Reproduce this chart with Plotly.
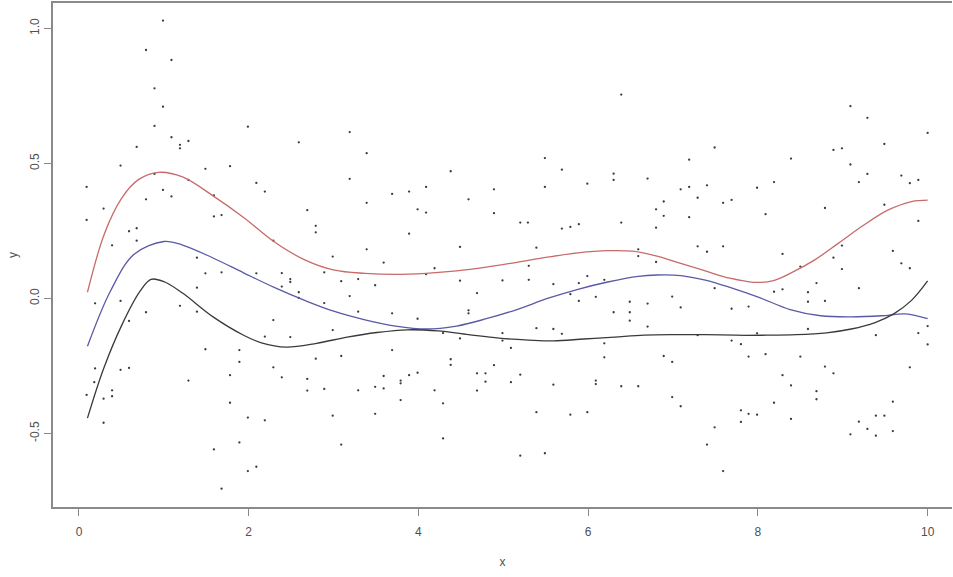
import plotly.graph_objects as go

# ---- scatter points ----
pts = [
    (0.99, 1.029), (0.79, 0.92), (1.09, 0.883), (0.89, 0.778), (0.99, 0.71), (0.89, 0.639),
    (1.99, 0.636), (1.09, 0.597), (1.19, 0.569), (1.19, 0.556), (1.29, 0.583), (0.68, 0.561),
    (0.49, 0.492), (1.49, 0.48), (1.78, 0.49), (0.89, 0.461), (1.29, 0.439), (2.09, 0.428),
    (2.19, 0.396), (0.09, 0.413), (0.99, 0.402), (1.09, 0.378), (0.79, 0.367), (1.59, 0.382),
    (0.29, 0.333), (0.09, 0.291), (1.59, 0.304), (1.68, 0.309), (0.59, 0.249), (0.68, 0.26),
    (0.68, 0.214), (0.39, 0.197), (1.39, 0.151), (1.49, 0.093), (1.68, 0.097), (2.09, 0.093),
    (1.39, 0.04), (0.19, -0.018), (0.49, -0.009), (0.79, -0.051), (1.19, -0.027), (1.39, -0.049),
    (0.59, -0.083), (2.19, -0.141), (1.49, -0.188), (1.89, -0.191), (1.89, -0.235), (0.19, -0.259),
    (0.49, -0.264), (0.59, -0.257), (1.78, -0.284), (1.29, -0.304), (0.18, -0.31), (0.09, -0.357),
    (0.29, -0.371), (0.39, -0.34), (0.39, -0.362), (1.78, -0.386), (0.29, -0.46), (1.99, -0.441),
    (2.19, -0.451), (1.89, -0.533), (1.59, -0.559), (1.99, -0.639), (2.09, -0.623), (1.68, -0.704),
    (3.19, 0.616), (2.59, 0.578), (3.39, 0.538), (4.38, 0.471), (3.19, 0.443), (3.69, 0.387),
    (3.89, 0.396), (4.09, 0.413), (4.59, 0.367), (3.39, 0.354), (2.69, 0.327), (3.99, 0.33),
    (4.09, 0.318), (2.79, 0.269), (2.79, 0.245), (3.89, 0.24), (2.29, 0.214), (3.39, 0.182),
    (4.49, 0.191), (2.99, 0.155), (3.59, 0.133), (4.19, 0.112), (4.09, 0.09), (2.39, 0.094),
    (2.49, 0.072), (2.49, 0.061), (2.89, 0.097), (3.09, 0.064), (3.29, 0.072), (3.49, 0.049),
    (4.49, 0.066), (2.39, 0.044), (2.59, 0.023), (2.59, 0.002), (3.19, 0.009), (2.89, -0.017),
    (4.69, 0.02), (4.59, -0.044), (4.59, -0.055), (3.29, -0.049), (3.69, -0.055), (2.29, -0.08),
    (3.99, -0.075), (2.99, -0.117), (2.49, -0.143), (4.29, -0.128), (4.49, -0.148), (3.69, -0.191),
    (2.79, -0.223), (3.09, -0.213), (4.38, -0.225), (4.38, -0.246), (2.29, -0.255), (2.39, -0.292),
    (2.69, -0.298), (2.69, -0.341), (2.89, -0.335), (3.29, -0.34), (3.49, -0.327), (3.59, -0.333),
    (3.59, -0.287), (3.79, -0.304), (3.79, -0.314), (3.89, -0.284), (3.99, -0.275), (4.19, -0.34),
    (4.69, -0.277), (4.69, -0.341), (3.79, -0.376), (4.29, -0.388), (2.99, -0.434), (3.49, -0.427),
    (3.09, -0.541), (4.29, -0.518),
    (6.39, 0.755), (5.49, 0.52), (7.19, 0.514), (5.69, 0.477), (6.30, 0.462), (6.30, 0.439),
    (6.70, 0.444), (5.99, 0.425), (4.89, 0.404), (5.49, 0.413), (7.09, 0.404), (7.19, 0.413),
    (7.40, 0.419), (7.29, 0.373), (6.89, 0.359), (6.80, 0.33), (4.89, 0.316), (6.89, 0.306),
    (7.19, 0.301), (5.20, 0.281), (5.29, 0.281), (5.89, 0.275), (6.39, 0.281), (5.69, 0.259),
    (5.79, 0.265), (6.80, 0.262), (5.39, 0.188), (6.59, 0.182), (6.59, 0.157), (7.29, 0.193),
    (7.40, 0.173), (6.80, 0.135), (5.30, 0.121), (4.99, 0.067), (5.30, 0.069), (5.59, 0.053),
    (5.89, 0.057), (5.99, 0.083), (6.19, 0.069), (5.79, 0.016), (5.89, -0.009), (6.09, 0.006),
    (6.49, -0.012), (6.70, -0.019), (6.99, 0.007), (7.09, -0.033), (6.30, -0.051), (6.49, -0.051),
    (6.49, -0.082), (5.39, -0.11), (5.59, -0.113), (5.69, -0.131), (6.70, -0.104), (4.99, -0.128),
    (4.99, -0.156), (7.29, -0.136), (5.09, -0.183), (6.19, -0.166), (6.19, -0.218), (6.89, -0.213),
    (6.99, -0.235), (4.89, -0.247), (4.79, -0.277), (4.79, -0.308), (5.09, -0.31), (5.20, -0.282),
    (5.59, -0.319), (6.09, -0.304), (6.09, -0.317), (6.39, -0.325), (6.59, -0.325), (6.99, -0.365),
    (7.09, -0.399), (5.39, -0.421), (5.79, -0.43), (5.99, -0.421), (7.40, -0.541), (5.20, -0.582),
    (5.49, -0.573),
    (9.09, 0.712), (9.29, 0.669), (10.0, 0.613), (7.49, 0.559), (9.49, 0.572), (8.89, 0.55),
    (8.99, 0.556), (9.09, 0.496), (8.39, 0.518), (8.19, 0.431), (9.19, 0.431), (9.29, 0.461),
    (9.69, 0.455), (9.79, 0.427), (9.89, 0.439), (7.99, 0.41), (7.59, 0.354), (7.69, 0.365),
    (8.79, 0.335), (9.49, 0.347), (8.09, 0.312), (9.89, 0.287), (7.59, 0.193), (8.99, 0.196),
    (9.59, 0.176), (8.29, 0.165), (8.89, 0.151), (9.69, 0.13), (9.79, 0.112), (8.99, 0.109),
    (8.50, 0.118), (8.69, 0.057), (7.49, 0.038), (8.19, 0.025), (8.29, 0.034), (8.59, 0.023),
    (9.19, 0.038), (8.59, -0.012), (8.79, -0.009), (7.69, -0.038), (7.89, -0.03), (8.59, -0.113),
    (7.99, -0.129), (10.0, -0.102), (9.89, -0.128), (9.39, -0.136), (10.0, -0.17), (7.69, -0.156),
    (7.80, -0.169), (7.89, -0.215), (8.09, -0.206), (8.50, -0.215), (8.79, -0.252), (8.89, -0.277),
    (9.79, -0.255), (8.29, -0.284), (8.39, -0.322), (8.69, -0.343), (8.69, -0.373), (8.19, -0.386),
    (9.59, -0.382), (7.80, -0.414), (7.89, -0.427), (7.99, -0.43), (7.80, -0.457), (8.39, -0.446),
    (9.39, -0.434), (9.49, -0.434), (7.49, -0.477), (9.19, -0.456), (9.29, -0.483), (9.59, -0.491),
    (9.09, -0.503), (9.39, -0.508), (7.59, -0.639),
]
x_pts = [p[0] for p in pts]
y_pts = [p[1] for p in pts]

# ---- fitted curves ----
red_x = [0.1, 0.3, 0.5, 0.7, 0.94, 1.22, 1.58, 1.94, 2.30, 2.66, 3.01, 3.37, 3.73, 4.09, 4.45,
         4.80, 5.16, 5.52, 5.88, 6.23, 6.52, 6.81, 7.09, 7.38, 7.67, 7.95, 8.17, 8.38, 8.67, 8.95,
         9.24, 9.53, 9.81, 10.0]
red_y = [0.023, 0.24, 0.37, 0.44, 0.467, 0.45, 0.38, 0.30, 0.21, 0.143, 0.105, 0.093, 0.089,
         0.093, 0.102, 0.116, 0.134, 0.153, 0.169, 0.177, 0.175, 0.157, 0.13, 0.102, 0.075, 0.06,
         0.065, 0.093, 0.143, 0.205, 0.27, 0.327, 0.359, 0.364]

blue_x = [0.1, 0.37, 0.65, 1.0, 1.22, 1.58, 1.94, 2.30, 2.66, 3.01, 3.37, 3.73, 4.09, 4.45, 4.80,
          5.16, 5.52, 5.88, 6.23, 6.59, 6.81, 7.09, 7.38, 7.67, 8.02, 8.38, 8.74, 9.10, 9.46, 9.74,
          10.0]
blue_y = [-0.177, 0.027, 0.164, 0.211, 0.198, 0.15, 0.095, 0.041, -0.007, -0.048, -0.079, -0.102,
          -0.113, -0.102, -0.075, -0.041, 0.0, 0.034, 0.061, 0.082, 0.087, 0.085, 0.068, 0.041,
          0.003, -0.041, -0.064, -0.068, -0.064, -0.057, -0.075]

black_x = [0.1, 0.29, 0.51, 0.72, 0.85, 1.01, 1.22, 1.58, 1.94, 2.15, 2.44, 2.80, 3.16, 3.51,
           3.87, 4.23, 4.59, 4.95, 5.30, 5.59, 5.95, 6.31, 6.66, 7.02, 7.38, 7.74, 8.10, 8.45,
           8.81, 9.10, 9.38, 9.60, 9.81, 10.0]
black_y = [-0.443, -0.26, -0.095, 0.027, 0.071, 0.061, 0.02, -0.068, -0.136, -0.164, -0.18,
           -0.166, -0.143, -0.126, -0.116, -0.12, -0.134, -0.147, -0.154, -0.157, -0.15, -0.143,
           -0.136, -0.134, -0.134, -0.136, -0.136, -0.134, -0.127, -0.113, -0.089, -0.057, -0.007,
           0.065]

x_ticks = [0, 2, 4, 6, 8, 10]
x_tick_labels = ["0", "2", "4", "6", "8", "10"]
y_ticks = [-0.5, 0.0, 0.5, 1.0]
y_tick_labels = ["-0.5", "0.0", "0.5", "1.0"]

fig = go.Figure()
fig.add_trace(go.Scatter(x=x_pts, y=y_pts, mode="markers",
                         marker=dict(size=2.3, color="#3a3a3a"), hoverinfo="skip"))
fig.add_trace(go.Scatter(x=red_x, y=red_y, mode="lines",
                         line=dict(color="#c86a6a", width=1.3, shape="spline", smoothing=1.0)))
fig.add_trace(go.Scatter(x=blue_x, y=blue_y, mode="lines",
                         line=dict(color="#5a5aa6", width=1.3, shape="spline", smoothing=1.0)))
fig.add_trace(go.Scatter(x=black_x, y=black_y, mode="lines",
                         line=dict(color="#3a3a3a", width=1.3, shape="spline", smoothing=1.0)))

fnt = dict(family="Liberation Sans Narrow, Liberation Sans, Arial, sans-serif", size=12, color="#505050")
fig.update_layout(
    width=953, height=577,
    margin=dict(l=53, r=1, t=3, b=70),
    paper_bgcolor="white", plot_bgcolor="white",
    showlegend=False,
    font=fnt,
    xaxis=dict(range=[-0.306, 10.287], showgrid=False, zeroline=False,
               showline=True, linecolor="#8a8a8a", linewidth=2, mirror=True,
               ticks="outside", ticklen=7, tickcolor="#8a8a8a", tickwidth=1,
               tickvals=x_ticks, ticktext=x_tick_labels, tickfont=fnt,
               ticklabelstandoff=6,
               title=dict(text="x", font=fnt, standoff=19)),
    yaxis=dict(range=[-0.772, 1.094], showgrid=False, zeroline=False,
               showline=True, linecolor="#8a8a8a", linewidth=2, mirror=False,
               ticks="outside", ticklen=7, tickcolor="#8a8a8a", tickwidth=1,
               tickvals=y_ticks, ticktext=y_tick_labels, tickangle=-90, tickfont=fnt,
               ticklabelstandoff=0,
               title=dict(text="y", font=fnt, standoff=8)),
)

fig.write_html("out.html")
